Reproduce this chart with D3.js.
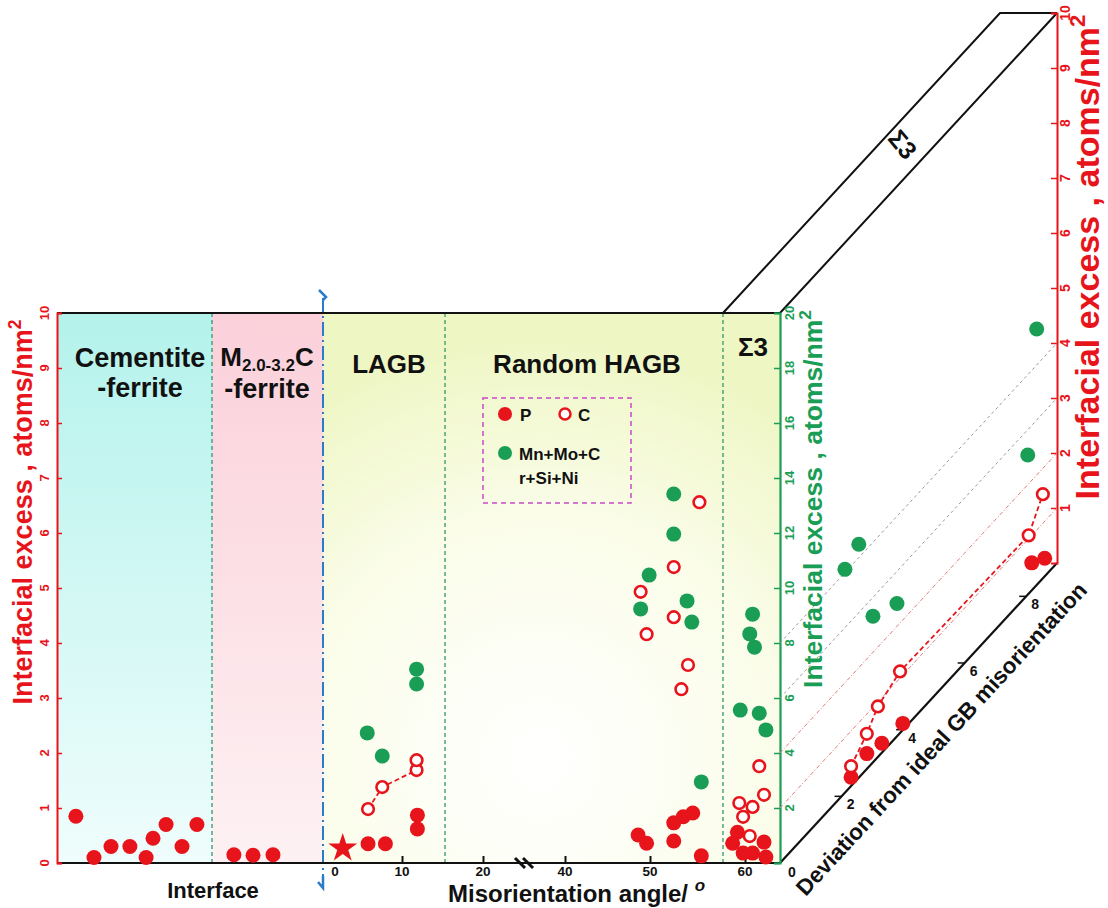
<!DOCTYPE html>
<html><head><meta charset="utf-8">
<script src="https://cdn.jsdelivr.net/npm/d3@7"></script>
<style>
body{margin:0;background:#fff;}
text{font-family:"Liberation Sans",Arial,sans-serif;font-weight:bold;}
</style></head><body>
<svg id="c" width="1108" height="908"></svg>
<script>
// ---------- data ----------
const leftTicks = d3.range(0, 11);
const greenTicks = d3.range(2, 21, 2);
const rightTicks = d3.range(1, 11);
const misTicks = [10, 20, 40, 50, 60];
const devTicks = [2, 4, 6, 8];
const sectionNames = ["LAGB", "Random HAGB"];
// interface panels: [position along interface (0-100), P excess]
const cementiteP = [[7.1,0.85],[13.9,0.1],[20.3,0.3],[27.4,0.3],[33.5,0.1],[36.1,0.45],[41.0,0.7],[47.0,0.3],[52.6,0.7]];
const m2cP = [[66.5,0.15],[73.7,0.14],[81.2,0.15]];
// misorientation panels: [angle, excess]
const lagbStar = [[2.5,0.27]];
const lagbP = [[5.7,0.35],[7.9,0.35],[11.9,0.87],[11.9,0.62]];
const lagbC = [[5.7,0.98],[7.5,1.38],[11.8,1.69],[11.8,1.87]];
const lagbM = [[5.6,4.73],[7.5,3.89],[11.8,7.05],[11.8,6.51]];
const hagbP = [[48.6,0.51],[49.6,0.36],[52.5,0.73],[53.5,0.84],[54.5,0.91],[52.5,0.40],[55.4,0.13]];
const hagbC = [[55.2,6.56],[52.5,5.38],[48.9,4.93],[49.6,4.16],[52.5,4.47],[54.0,3.60],[53.3,3.16]];
const hagbM = [[52.5,13.42],[52.5,11.96],[49.9,10.47],[48.9,9.24],[53.9,9.53],[54.4,8.76],[55.4,2.95]];
const sig3P = [[58.7,0.36],[59.2,0.56],[59.8,0.18],[60.8,0.18],[62.0,0.38],[62.2,0.11]];
const sig3C = [[60.5,0.49],[59.8,0.84],[60.8,1.02],[59.4,1.09],[62.0,1.24],[61.5,1.76]];
const sig3M = [[60.8,9.05],[60.5,8.33],[61.0,7.85],[59.5,5.56],[61.5,5.45],[62.2,4.84]];
// Σ3 vs deviation from ideal misorientation: [deviation, excess]
const devP = [[2.31,0.16],[2.82,0.28],[3.31,0.17],[3.99,0.12],[8.18,0.50],[8.60,0.33]];
const devC = [[2.31,0.36],[2.82,0.64],[3.18,0.92],[3.90,1.12],[8.08,1.06],[8.54,1.53]];
const devM = [[2.11,8.12],[2.56,8.49],[3.02,5.31],[3.80,4.83],[8.05,5.08],[8.34,9.31]];

// ---------- layout ----------
const RED = "#e8141b", GREEN = "#1a9e55", BLUE = "#2a7cc9";
const L = 57, R = 780, T = 313, B = 863, XB = 323;
const svg = d3.select("#c");
const defs = svg.append("defs");
const yRed = d3.scaleLinear().domain([0,10]).range([B,T]);
const yGreen = d3.scaleLinear().domain([0,20]).range([B,T]);
const xInt = d3.scaleLinear().domain([0,100]).range([L,XB]);
const xMis = d3.scaleLinear().domain([0,10,20,40,50,60]).range([XB,402,483,565,650,745]);
const devX = d3.scaleLinear().domain([0,9]).range([0,277]);
const devY = d3.scaleLinear().domain([0,9]).range([0,-300]);
const yRight = d3.scaleLinear().domain([0,10]).range([B-300, T-300]);

// gradients
function lg(id, c0, c1){
  const g = defs.append("linearGradient").attr("id",id).attr("x1",0).attr("y1",0).attr("x2",0).attr("y2",1);
  g.append("stop").attr("offset","0%").attr("stop-color",c0);
  g.append("stop").attr("offset","100%").attr("stop-color",c1);
}
lg("gCyan","#b4f2ec","#effdfc");
lg("gPink","#fbd0da","#fdf1f3");
const rg = defs.append("radialGradient").attr("id","gYel").attr("gradientUnits","userSpaceOnUse")
  .attr("cx",540).attr("cy",760).attr("r",430);
rg.append("stop").attr("offset","0%").attr("stop-color","#ffffff");
rg.append("stop").attr("offset","55%").attr("stop-color","#fbfdea");
rg.append("stop").attr("offset","100%").attr("stop-color","#eef6c3");

svg.append("rect").attr("x",L).attr("y",T).attr("width",212-L).attr("height",B-T).attr("fill","url(#gCyan)");
svg.append("rect").attr("x",212).attr("y",T).attr("width",XB-212).attr("height",B-T).attr("fill","url(#gPink)");
svg.append("rect").attr("x",XB).attr("y",T).attr("width",R-XB).attr("height",B-T).attr("fill","url(#gYel)");

// green dashed separators
[212, 445, 723].forEach(x=>{
  svg.append("line").attr("x1",x).attr("x2",x).attr("y1",T).attr("y2",B)
    .attr("stroke","#2e9a6a").attr("stroke-width",1.3).attr("stroke-dasharray","4,3");
});
// blue break line
svg.append("line").attr("x1",XB).attr("x2",XB).attr("y1",298).attr("y2",884)
  .attr("stroke",BLUE).attr("stroke-width",2).attr("stroke-dasharray","14,4,2,4");
svg.append("path").attr("d",`M${XB-4},290 L${XB+3},297 L${XB},300`).attr("fill","none").attr("stroke",BLUE).attr("stroke-width",2.5);
svg.append("path").attr("d",`M${XB},876 L${XB},888 L${XB-5},882`).attr("fill","none").attr("stroke",BLUE).attr("stroke-width",2.5);

// frame
svg.append("line").attr("x1",L).attr("x2",R).attr("y1",T).attr("y2",T).attr("stroke","#111").attr("stroke-width",2);
svg.append("line").attr("x1",L).attr("x2",R).attr("y1",B).attr("y2",B).attr("stroke","#111").attr("stroke-width",2.2);
// 3D box
const dv = [devX(9), devY(9)];
svg.append("path").attr("d",`M723,${T} L${723+dv[0]},${T+dv[1]} L${R+dv[0]},${T+dv[1]} M${R},${T} L${R+dv[0]},${T+dv[1]}`)
  .attr("fill","none").attr("stroke","#111").attr("stroke-width",2);
svg.append("line").attr("x1",R).attr("y1",B).attr("x2",R+dv[0]).attr("y2",B+dv[1]).attr("stroke","#111").attr("stroke-width",2.2);
svg.append("text").attr("transform",`translate(896,150) rotate(50)`).attr("text-anchor","middle")
  .attr("font-size",25).attr("fill","#111").text("Σ3");

// left red axis
const gL = svg.append("g").attr("transform",`translate(${L},0)`).call(d3.axisLeft(yRed).tickValues(leftTicks).tickSize(-5).tickFormat(""));
gL.select(".domain").attr("stroke",RED).attr("stroke-width",2);
gL.selectAll(".tick line").attr("stroke",RED).attr("stroke-width",1.5);
leftTicks.forEach(v=>{
  svg.append("text").attr("transform",`translate(${L-8},${yRed(v)}) rotate(-90)`).attr("text-anchor","middle")
    .attr("font-size",13).attr("fill",RED).text(v);
});
// green axis
const gG = svg.append("g").attr("transform",`translate(${R},0)`).call(d3.axisRight(yGreen).tickValues(greenTicks.concat([0])).tickSize(-6).tickFormat(""));
gG.select(".domain").attr("stroke",GREEN).attr("stroke-width",2.2);
gG.selectAll(".tick line").attr("stroke",GREEN).attr("stroke-width",1.5);
greenTicks.forEach(v=>{
  svg.append("text").attr("transform",`translate(${R+14},${yGreen(v)}) rotate(-90)`).attr("text-anchor","middle")
    .attr("font-size",13).attr("fill",GREEN).text(v);
});
svg.append("text").attr("x",R+8).attr("y",B+14).attr("font-size",14).attr("fill","#111").text("0");
// right red axis
const xRA = R + dv[0];
const gR = svg.append("g").attr("transform",`translate(${xRA},0)`).call(d3.axisRight(yRight).tickValues(rightTicks).tickSize(-6).tickFormat(""));
gR.select(".domain").attr("stroke",RED).attr("stroke-width",2);
gR.selectAll(".tick line").attr("stroke",RED).attr("stroke-width",1.5);
rightTicks.forEach(v=>{
  svg.append("text").attr("transform",`translate(${xRA+13},${yRight(v)}) rotate(-90)`).attr("text-anchor","middle")
    .attr("font-size",14).attr("fill",RED).text(v);
});

// bottom misorientation ticks
const gB = svg.append("g").attr("transform",`translate(0,${B})`).call(d3.axisBottom(xMis).tickValues(misTicks).tickSize(-7).tickFormat(""));
gB.select(".domain").remove();
gB.selectAll(".tick line").attr("stroke","#111").attr("stroke-width",2);
misTicks.concat([0]).forEach(v=>{
  svg.append("text").attr("x",v===0? xMis(v)+12 : xMis(v)).attr("y",B+13).attr("text-anchor","middle")
    .attr("font-size",13.5).attr("fill","#111").text(v);
});
// axis break
const xBr = (xMis(20)+xMis(40))/2;
[-4,4].forEach(o=>{
  svg.append("line").attr("x1",xBr+o-5).attr("y1",B-5).attr("x2",xBr+o+5).attr("y2",B+5)
    .attr("stroke","#111").attr("stroke-width",3);
});

// deviation axis ticks
devTicks.forEach(v=>{
  const x = R+devX(v), y = B+devY(v);
  svg.append("line").attr("x1",x-7).attr("y1",y).attr("x2",x).attr("y2",y).attr("stroke","#111").attr("stroke-width",1.5);
  svg.append("text").attr("x",x+9).attr("y",y+13).attr("text-anchor","middle").attr("font-size",14).attr("fill","#111").text(v);
});
// depth gridlines
[[8,"#9a9a9a","3,3"],[6,"#9a9a9a","3,3"],[4,"#e07a7a","4,2,1,2"],[2,"#e07a7a","4,2,1,2"]].forEach(([g,c,da])=>{
  svg.append("line").attr("x1",R).attr("y1",yGreen(g)).attr("x2",R+dv[0]).attr("y2",yGreen(g)+dv[1])
    .attr("stroke",c).attr("stroke-width",1).attr("stroke-dasharray",da);
});

// titles
function excessTitle(x, y, size, color){
  const t = svg.append("text").attr("transform",`translate(${x},${y}) rotate(-90)`).attr("text-anchor","middle")
    .attr("font-size",size).attr("fill",color);
  t.append("tspan").text("Interfacial excess , atoms/nm");
  t.append("tspan").attr("dy",-size*0.4).attr("font-size",size*0.65).text("2");
}
excessTitle(32, 512, 27, RED);
excessTitle(822, 499, 26.5, GREEN);
excessTitle(1099, 257, 34, RED);

svg.append("text").attr("x",213).attr("y",898).attr("text-anchor","middle").attr("font-size",22).attr("fill","#111").text("Interface");
const mt = svg.append("text").attr("x",448).attr("y",902).attr("font-size",24).attr("fill","#111");
mt.append("tspan").text("Misorientation angle/ ");
mt.append("tspan").attr("dy",-11).attr("font-size",17).attr("font-style","italic").text("o");
svg.append("text").attr("transform",`translate(947,744) rotate(${-Math.atan2(-dv[1],dv[0])*180/Math.PI})`)
  .attr("text-anchor","middle").attr("font-size",22.5).attr("fill","#111").text("Deviation from ideal GB misorientation");

// section labels
function lab(x,y,s,size){ return svg.append("text").attr("x",x).attr("y",y).attr("text-anchor","middle").attr("font-size",size||26).attr("fill","#111").text(s); }
lab(140,367,"Cementite",27); lab(140,397,"-ferrite",27);
const m2 = svg.append("text").attr("x",267).attr("y",366).attr("text-anchor","middle").attr("font-size",26).attr("fill","#111");
m2.append("tspan").text("M");
m2.append("tspan").attr("dy",5).attr("font-size",17).text("2.0-3.2");
m2.append("tspan").attr("dy",-5).text("C");
lab(267,398,"-ferrite",27);
lab(389,373,sectionNames[0]); lab(587,373,sectionNames[1]);
lab(753,356,"Σ3");

// legend
svg.append("rect").attr("x",483).attr("y",398).attr("width",148).attr("height",105).attr("fill","none")
  .attr("stroke","#c84ac8").attr("stroke-width",1.5).attr("stroke-dasharray","5,4");
svg.append("circle").attr("cx",505).attr("cy",414).attr("r",7).attr("fill",RED);
svg.append("text").attr("x",520).attr("y",421).attr("font-size",17).attr("fill","#111").text("P");
svg.append("circle").attr("cx",565).attr("cy",414).attr("r",5.5).attr("fill","#fff").attr("stroke",RED).attr("stroke-width",2.5);
svg.append("text").attr("x",578).attr("y",421).attr("font-size",17).attr("fill","#111").text("C");
svg.append("circle").attr("cx",505).attr("cy",453).attr("r",7).attr("fill",GREEN);
svg.append("text").attr("x",519).attr("y",460).attr("font-size",17).attr("fill","#111").text("Mn+Mo+C");
svg.append("text").attr("x",519).attr("y",484).attr("font-size",17).attr("fill","#111").text("r+Si+Ni");

// ---------- marks ----------
const layer = svg.append("g");
function filled(data, xs, ys, color){
  layer.append("g").selectAll("circle").data(data).join("circle")
    .attr("cx",d=>xs(d)).attr("cy",d=>ys(d)).attr("r",7.5).attr("fill",color);
}
function open(data, xs, ys){
  layer.append("g").selectAll("circle").data(data).join("circle")
    .attr("cx",d=>xs(d)).attr("cy",d=>ys(d)).attr("r",5.8).attr("fill","#fff").attr("stroke",RED).attr("stroke-width",2.6);
}
function dashed(data, xs, ys){
  layer.append("path").attr("d",d3.line().x(xs).y(ys)(data)).attr("fill","none")
    .attr("stroke",RED).attr("stroke-width",1.8).attr("stroke-dasharray","5,3");
}
const xi = d=>xInt(d[0]), xm = d=>xMis(d[0]), yr = d=>yRed(d[1]), yg = d=>yGreen(d[1]);
filled(cementiteP, xi, yr, RED);
filled(m2cP, xi, yr, RED);
layer.append("g").selectAll("path").data(lagbStar).join("path")
  .attr("transform",d=>`translate(${xm(d)},${yr(d)})`).attr("d",d3.symbol(d3.symbolStar).size(260)).attr("fill",RED);
dashed(lagbC.slice(0,3), xm, yr);
[lagbM, hagbM, sig3M].forEach(a=>filled(a, xm, yg, GREEN));
[lagbP, hagbP, sig3P].forEach(a=>filled(a, xm, yr, RED));
[lagbC, hagbC, sig3C].forEach(a=>open(a, xm, yr));
// depth (Σ3 deviation) plot
const dxp = d=>R+devX(d[0]);
const dyr = d=>yRed(d[1])+devY(d[0]);
const dyg = d=>yGreen(d[1])+devY(d[0]);
dashed(devC, dxp, dyr);
filled(devM, dxp, dyg, GREEN);
filled(devP, dxp, dyr, RED);
open(devC, dxp, dyr);
</script>
</body></html>
